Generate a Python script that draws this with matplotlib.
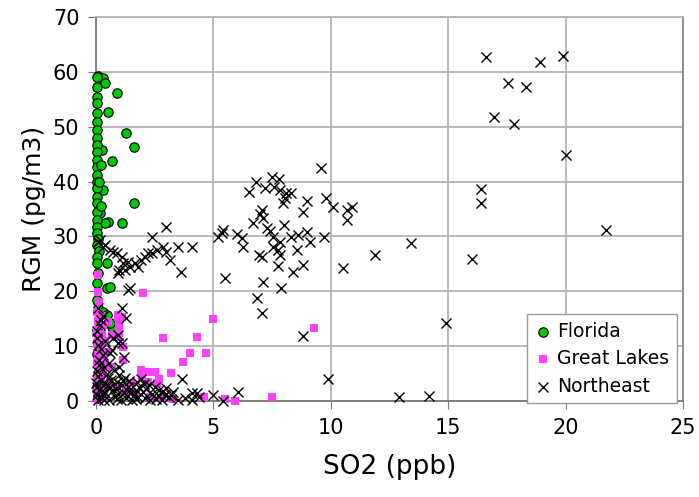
import matplotlib
matplotlib.use("Agg")
import matplotlib.pyplot as plt

plt.rcParams['font.family'] = ['DejaVu Sans']

# Florida (SO2 ppb, RGM pg/m3)
florida = [
    (0.1, 59.2), (0.3, 58.8), (0.4, 58.0), (0.9, 56.1), (0.5, 52.7), (1.3, 48.9),
    (1.6, 46.3), (0.7, 43.8), (1.6, 36.1), (1.1, 32.5), (0.5, 32.6), (0.25, 45.8),
    (0.3, 38.5), (0.17, 34.3), (0.38, 32.4),
    (0.05, 59.0), (0.05, 57.2), (0.05, 55.4), (0.05, 54.3), (0.05, 52.5), (0.05, 50.9),
    (0.05, 49.4), (0.05, 47.9), (0.05, 46.7), (0.05, 45.4), (0.05, 43.9), (0.05, 42.7),
    (0.05, 41.2), (0.05, 39.9), (0.05, 38.8), (0.05, 37.2), (0.05, 36.1), (0.05, 34.4),
    (0.05, 33.0), (0.05, 31.7), (0.05, 30.6), (0.1, 29.5), (0.05, 28.4), (0.15, 27.3),
    (0.05, 26.2), (0.05, 25.1), (0.47, 25.1), (0.1, 23.3), (0.05, 21.5), (0.47, 20.6),
    (0.6, 20.8), (0.05, 18.4), (0.1, 17.0), (0.3, 16.2), (0.47, 15.7), (0.7, 13.5),
    (0.6, 14.2), (0.05, 13.0), (0.1, 11.0), (0.05, 8.5), (0.1, 5.0), (0.05, 2.5),
    (0.1, 0.5), (0.2, 43.0), (0.15, 40.0), (0.2, 35.5),
]

# Great Lakes
great_lakes = [
    (0.08, 23.0), (0.08, 19.9), (2.0, 19.7), (5.0, 15.0), (4.3, 11.7), (2.85, 11.5),
    (4.0, 8.7), (4.7, 8.7), (3.7, 7.1), (3.2, 5.1), (2.6, 3.3), (2.2, 5.3), (2.5, 5.3),
    (1.95, 4.4), (2.2, 3.5), (1.15, 7.5), (1.1, 15.3), (0.95, 15.7), (1.0, 13.9),
    (1.0, 12.4), (0.7, 12.0), (0.5, 14.4), (1.15, 9.8), (5.9, 0.0), (7.5, 0.7),
    (9.3, 13.3), (5.5, 0.4), (4.6, 0.7), (0.8, 11.7), (0.7, 6.2),
    (0.05, 16.3), (0.2, 15.5), (0.1, 14.5), (0.3, 13.8), (0.05, 13.0), (0.25, 12.2),
    (0.1, 11.5), (0.4, 11.0), (0.05, 10.3), (0.2, 9.6), (0.35, 9.0), (0.1, 8.4),
    (0.25, 7.8), (0.05, 7.0), (0.4, 6.5), (0.15, 6.0), (0.3, 5.3), (0.05, 4.6),
    (0.2, 4.0), (0.1, 3.0), (0.35, 2.2), (0.05, 1.5), (0.2, 0.8), (0.1, 0.2),
    (0.6, 3.5), (0.9, 2.5), (1.3, 1.8), (1.7, 1.2), (2.3, 0.8), (2.8, 0.5),
    (3.3, 0.3), (1.5, 3.2), (0.5, 9.0), (0.15, 18.0), (0.94, 15.3), (0.94, 11.7),
    (1.9, 5.6), (2.7, 4.0),
]

# Northeast
northeast = [
    # upper right
    (16.6, 62.7), (18.9, 61.8), (19.9, 62.9), (17.55, 58.0), (18.3, 57.2), (16.95, 51.8),
    (17.8, 50.5), (20.0, 44.8), (16.4, 38.6), (16.4, 36.1), (21.7, 31.2), (16.0, 25.9),
    (13.4, 28.8), (11.9, 26.6), (10.5, 24.2), (14.9, 14.2), (8.8, 11.8), (9.9, 4.0),
    (12.9, 0.7), (14.2, 0.9),
    # middle cluster
    (9.58, 42.5), (6.8, 39.9), (6.5, 38.1), (7.5, 40.8), (7.8, 40.4), (7.6, 39.0),
    (7.85, 38.5), (8.1, 37.9), (7.95, 36.1), (8.05, 37.0), (9.0, 36.5), (8.8, 34.5),
    (9.8, 37.0), (10.1, 35.4), (10.7, 34.8), (10.9, 35.4), (10.7, 33.0), (7.07, 34.8),
    (7.0, 34.0), (7.1, 33.4), (6.7, 32.4), (7.3, 31.5), (5.4, 31.2), (5.2, 29.9),
    (5.35, 30.6), (6.0, 30.4), (6.2, 29.7), (7.55, 29.9), (8.3, 29.9), (8.6, 30.2),
    (9.0, 30.8), (9.1, 29.0), (9.7, 29.9), (7.85, 29.0), (7.55, 28.1), (6.25, 28.1),
    (6.95, 26.6), (7.05, 26.3), (7.75, 27.5), (7.85, 26.6), (8.55, 27.5), (8.8, 24.8),
    (7.75, 24.6), (8.4, 23.5), (7.1, 21.7), (7.9, 20.6), (6.85, 18.8), (7.07, 16.0),
    (7.4, 31.0), (8.0, 32.0), (7.2, 38.8), (8.3, 38.0),
    # left arm
    (3.0, 31.7), (2.4, 29.9), (0.08, 29.0), (0.3, 28.1), (0.6, 27.5), (0.9, 27.0),
    (1.1, 26.3), (1.35, 25.4), (1.65, 25.1), (1.9, 25.7), (2.1, 26.3), (2.4, 27.0),
    (2.6, 27.5), (2.85, 28.1), (3.0, 27.2), (3.5, 28.1), (4.1, 28.1), (3.15, 25.7),
    (3.6, 23.5), (0.94, 23.3), (1.25, 23.9), (1.8, 24.4), (1.35, 20.2), (1.45, 20.6),
    (5.5, 22.4), (0.17, 29.3), (0.38, 28.4), (0.72, 27.2), (1.15, 25.1), (2.2, 26.9),
    (1.45, 24.4), (1.0, 23.9),
    # low values
    (1.3, 15.1), (1.1, 17.0), (0.17, 13.9), (0.94, 12.0), (0.94, 10.6), (0.6, 8.7),
    (1.0, 6.2), (0.9, 3.5), (1.75, 3.5), (3.65, 4.0), (3.3, 1.6), (2.95, 1.1),
    (3.5, 0.2), (4.1, 1.5), (4.4, 0.7), (6.05, 1.6), (5.0, 1.1), (4.3, 1.5),
    (3.1, 0.7), (4.1, 0.2), (5.4, 0.0), (2.8, 0.2), (0.72, 11.5), (1.1, 10.6),
    (0.7, 9.3), (1.2, 8.0),
    # dense corner
    (0.05, 5.5), (0.1, 4.5), (0.2, 3.8), (0.3, 3.0), (0.05, 2.5), (0.15, 2.0),
    (0.4, 1.5), (0.05, 1.0), (0.25, 0.5), (0.1, 0.1), (0.5, 4.2), (0.6, 2.6),
    (0.7, 1.8), (0.8, 0.9), (0.9, 0.3), (1.0, 4.8), (1.1, 2.9), (1.2, 1.4),
    (1.3, 0.6), (1.4, 3.6), (1.5, 2.2), (1.6, 1.0), (1.7, 0.3), (1.85, 2.6),
    (2.0, 1.6), (2.1, 0.6), (2.25, 2.9), (2.4, 1.3), (2.55, 0.4), (2.7, 2.0),
    (0.35, 6.2), (0.15, 7.4), (0.45, 5.0), (0.75, 5.6), (0.2, 9.5), (0.05, 11.5),
    (0.3, 15.5), (0.1, 17.0), (1.25, 4.1), (1.55, 0.1), (2.3, 0.1), (3.0, 2.4),
    (3.8, 0.6), (0.55, 0.2), (1.9, 4.0),
    (0.0, 3.3), (0.25, 1.2), (0.45, 2.8), (0.35, 0.1), (0.65, 3.9), (0.85, 2.1),
    (0.95, 1.2), (1.05, 0.2), (1.15, 3.7), (1.35, 2.5), (1.45, 1.5), (1.75, 1.8),
    (1.8, 0.8), (2.05, 3.1), (2.15, 2.2), (2.5, 2.5), (2.65, 1.0), (2.85, 1.8),
    (3.2, 1.0), (0.15, 6.5), (0.55, 7.0), (0.3, 8.3), (0.1, 10.2), (0.05, 12.8),
    (0.2, 14.8), (0.4, 11.0),
]

fl_so2 = [p[0] for p in florida]
fl_rgm = [p[1] for p in florida]
gl_so2 = [p[0] for p in great_lakes]
gl_rgm = [p[1] for p in great_lakes]
ne_so2 = [p[0] for p in northeast]
ne_rgm = [p[1] for p in northeast]

fig = plt.figure(figsize=(6.99, 4.97), dpi=100)
ax = fig.add_axes([0.1373, 0.1932, 0.8398, 0.7726])

ax.scatter(fl_so2, fl_rgm, s=46, c='#00c800', edgecolors='black', linewidths=0.8,
           marker='o', label='Florida', clip_on=False, zorder=3)
ax.scatter(gl_so2, gl_rgm, s=28, c='#ff40ff', marker='s', linewidths=0,
           label='Great Lakes', clip_on=False, zorder=4)
ax.scatter(ne_so2, ne_rgm, s=52, c='black', marker='x', linewidths=1.0,
           label='Northeast', clip_on=False, zorder=5)

ax.set_xlim(0, 25)
ax.set_ylim(0, 70)
ax.set_xticks(range(0, 26, 5))
ax.set_yticks(range(0, 71, 10))
ax.grid(True, color='#b4b4b4', linewidth=1.3)
ax.set_axisbelow(True)
for side in ['left', 'bottom']:
    ax.spines[side].set_color('#7a7a7a')
    ax.spines[side].set_linewidth(1.3)
ax.spines['right'].set_color('#8a8a8a')
ax.spines['right'].set_linewidth(1.3)
ax.spines['top'].set_color('#b4b4b4')
ax.spines['top'].set_linewidth(1.3)
ax.tick_params(direction='out', length=6, color='#7a7a7a', labelsize=15, pad=6)

ax.set_xlabel('SO2 (ppb)', fontsize=19, labelpad=12)
ax.set_ylabel('RGM (pg/m3)', fontsize=18, labelpad=5)

leg = ax.legend(loc='lower right', bbox_to_anchor=(0.99, -0.006), fontsize=13.5,
                frameon=True, fancybox=False, framealpha=1, edgecolor='#999999',
                handletextpad=0.25, labelspacing=0.45, borderpad=0.4,
                handlelength=1.0, borderaxespad=0)
leg.set_zorder(10)

fig.savefig('out.png', dpi=100)
